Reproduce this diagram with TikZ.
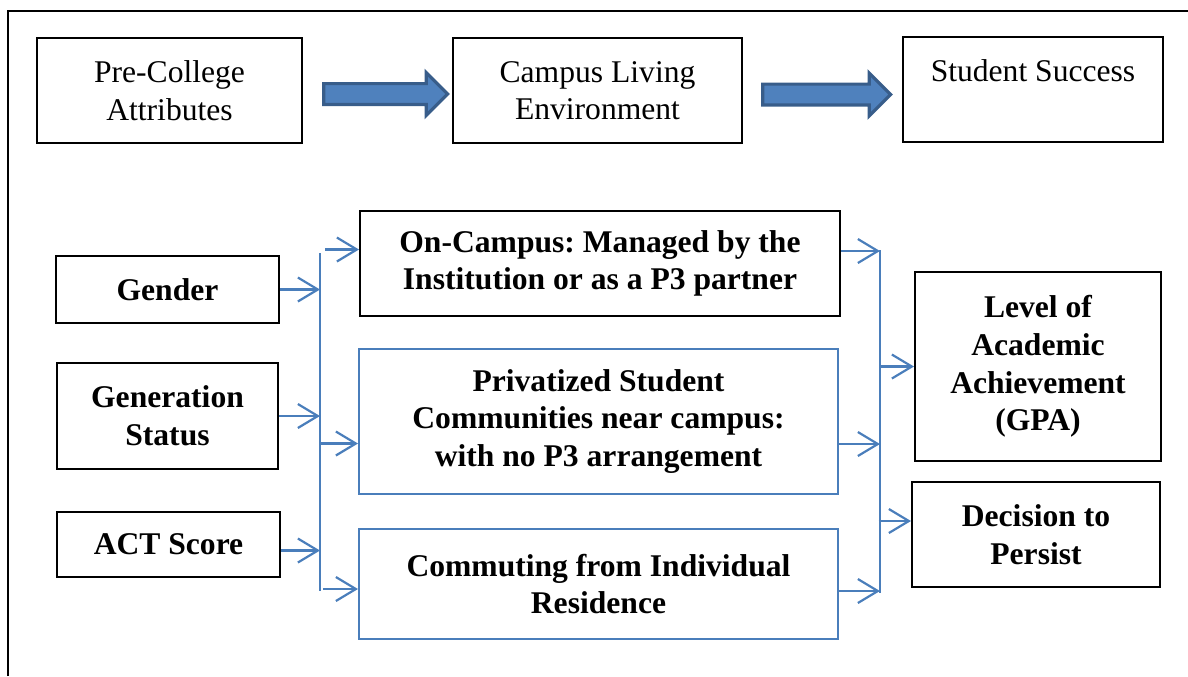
\documentclass[tikz,border=0pt]{standalone}
\usepackage{fontspec}
\setmainfont{Liberation Serif}
\frenchspacing
\usetikzlibrary{shapes.arrows, arrows.meta, positioning, calc}
\definecolor{cLine}{RGB}{74,126,187}
\definecolor{cArrowFill}{RGB}{79,129,189}
\definecolor{cArrowEdge}{RGB}{56,93,138}
\tikzset{
	box/.style      ={rectangle, draw=black, line width=1pt, inner sep=2pt, align=center, font=\fontsize{15.8}{18.8}\selectfont},
	factor/.style   ={box, font=\fontsize{15.8}{18.8}\selectfont\bfseries},
	bluebox/.style  ={factor, draw=cLine},
	bigarrow/.style ={single arrow, draw=cArrowEdge, fill=cArrowFill, line width=1.6pt, single arrow head extend=5.5pt, inner sep=4.4pt},
	% thin connectors and the two collecting lines
	link/.style     ={-{Straight Barb[length=10pt, width=12pt]}, line width=1.1pt, draw=cLine},
	bus/.style      ={line width=1.1pt, draw=cLine},
}

\begin{document}
\begin{tikzpicture}[x=0.5pt, y=-0.5pt]
	\useasboundingbox (0,0) rectangle (1188,676);
	% frame, open on the right and at the bottom
	\draw[line width=1pt] (8,676) -- (8,11) -- (1188,11);

	% top row
	\node[box, minimum width=132.5pt, minimum height=52.5pt] (pre) at (169.5,90.5) {Pre-College\\Attributes};
	\node[box, minimum width=144.5pt, minimum height=52.5pt] (env) at (597.5,90.5) {Campus Living\\Environment};
	\node[box, minimum width=130pt, minimum height=52.5pt] (succ) at (1033,89.5) {Student Success\\\mbox{}};
	\node[bigarrow, minimum height=62pt] (arA) at ($(pre.east)!0.5!(env.west)+(3,3.5)$) {};
	\node[bigarrow, minimum height=64pt] (arB) at ($(env.east)!0.5!(succ.west)+(-1,4.5)$) {};

	% pre-college attributes
	\node[factor, minimum width=111.5pt, minimum height=33.5pt] (gend) at (167.5,289.5) {Gender};
	\node[factor, minimum width=110.5pt, minimum height=53pt] (gens) at (167.5,416) {Generation\\Status};
	\node[factor, minimum width=111.5pt, minimum height=32.5pt] (act) at (168.5,544.5) {ACT Score};

	% living environments
	\node[factor, minimum width=240pt, minimum height=52.5pt] (oncamp) at (600,263.5) {On-Campus: Managed by the\\Institution or as a P3 partner};
	\node[bluebox, minimum width=239.5pt, minimum height=72.5pt] (priv) at (598.5,421.5) {Privatized Student\\Communities near campus:\\with no P3 arrangement};
	\node[bluebox, minimum width=239.5pt, minimum height=55pt] (commute) at (598.5,584) {Commuting from Individual\\Residence};

	% outcomes
	\node[factor, minimum width=123pt, minimum height=94.5pt] (gpa) at (1038,366.5) {Level of\\Academic\\Achievement\\(GPA)};
	\node[factor, minimum width=124pt, minimum height=52.5pt] (persist) at (1036,534.5) {Decision to\\Persist};

	\coordinate (lbusT) at (320,253);
	\coordinate (lbusB) at (320,591);
	\coordinate (rbusT) at (880,250);
	\coordinate (rbusB) at (880,593);
	\draw[bus] (lbusT) -- (lbusB);
	\draw[bus] (rbusT) -- (rbusB);

	\draw[link] (gend.east) -- (gend.east -| lbusT);
	\draw[link] (gens.east) -- (gens.east -| lbusT);
	\draw[link] ([yshift=-3pt]act.east) -- ([yshift=-3pt]act.east -| lbusT);

	\coordinate (inOn) at ([yshift=7pt]oncamp.west);
	\coordinate (inPriv) at ([yshift=-11pt]priv.west);
	\coordinate (inCom) at ([yshift=-2.5pt]commute.west);
	\draw[link] (inOn -| lbusT) ++(5,0) -- (inOn);
	\draw[link] (inPriv -| lbusT) -- (inPriv);
	\draw[link] (inCom -| lbusT) ++(3,0) -- (inCom);

	\coordinate (outOn) at ([yshift=6.25pt]oncamp.east);
	\coordinate (outPriv) at ([yshift=-11.25pt]priv.east);
	\coordinate (outCom) at ([yshift=-3.5pt]commute.east);
	\draw[link] (outOn) -- (outOn -| rbusT);
	\draw[link] (outPriv) -- (outPriv -| rbusT);
	\draw[link] (outCom) -- (outCom -| rbusT);

	\coordinate (inDec) at ([yshift=6.75pt]persist.west);
	\draw[link] (gpa.west -| rbusT) -- (gpa.west);
	\draw[link] (inDec -| rbusT) ++(-1.5,0) -- (inDec);
\end{tikzpicture}
\end{document}
